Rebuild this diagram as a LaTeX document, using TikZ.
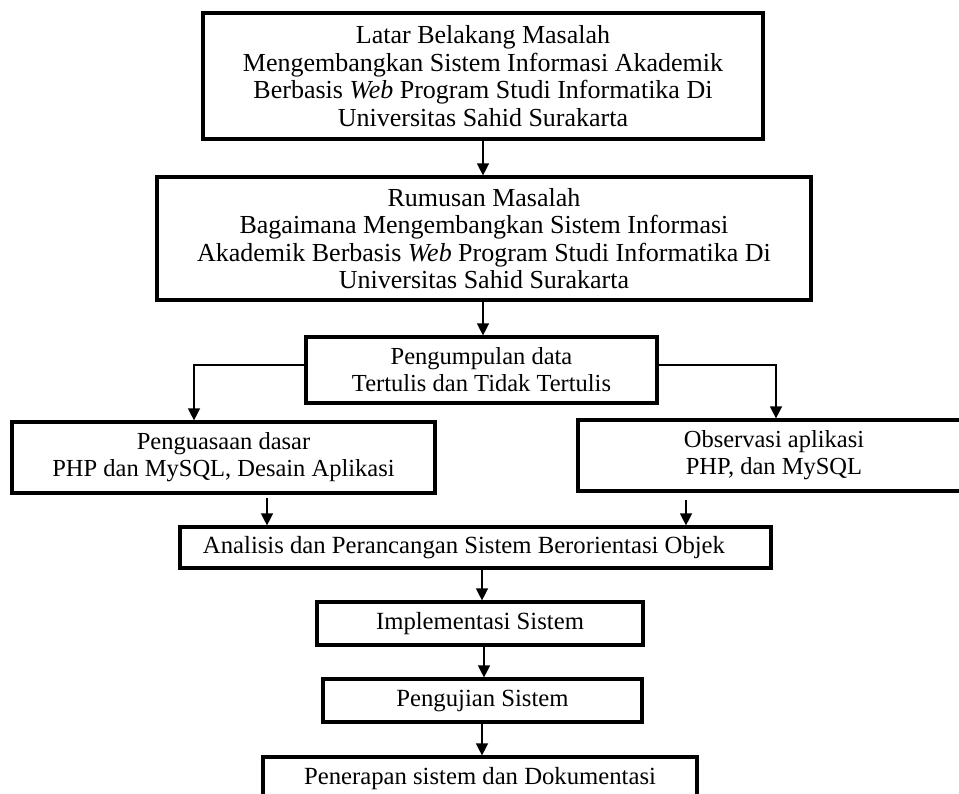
\documentclass[tikz,border=0pt]{standalone}
\usepackage{fontspec}
\setmainfont{Liberation Serif}
\usetikzlibrary{arrows.meta}
\begin{document}
\begin{tikzpicture}[x=1pt,y=-1pt,
  box/.style={draw, line width=3.2pt, inner sep=0pt, align=center},
  arr/.style={line width=1.4pt, -{Triangle[width=12pt,length=12pt]}},
  bigtxt/.style={font=\fontsize{26}{27.5}\selectfont},
  midtxt/.style={font=\fontsize{24.5}{27}\selectfont},
  smltxt/.style={font=\fontsize{24.7}{27}\selectfont}]
\useasboundingbox (0,0) rectangle (959,794);

\node[box,bigtxt,minimum width=560pt,minimum height=126pt] (b1) at (483,76)
  {Latar Belakang Masalah\\Mengembangkan Sistem Informasi Akademik\\Berbasis \textit{Web} Program Studi Informatika Di\\Universitas Sahid Surakarta};
\node[box,bigtxt,minimum width=654pt,minimum height=123pt] (b2) at (484,238.5)
  {Rumusan Masalah\\Bagaimana Mengembangkan Sistem Informasi\\Akademik Berbasis \textit{Web} Program Studi Informatika Di\\Universitas Sahid Surakarta};
\node[box,midtxt,minimum width=351pt,minimum height=66pt] (b3) at (481.5,370)
  {Pengumpulan data\\Tertulis dan Tidak Tertulis};
\node[box,midtxt,minimum width=423pt,minimum height=71pt] (b4) at (223.5,457.5)
  {Penguasaan dasar\\PHP dan MySQL, Desain Aplikasi};
\node[box,midtxt,minimum width=392pt,minimum height=71pt] (b5) at (774,455.5)
  {Observasi aplikasi\\PHP, dan MySQL};
\node[box,smltxt,minimum width=591pt,minimum height=41pt] (b6) at (475.5,547.5)
  {Analisis dan Perancangan Sistem Berorientasi Objek\hspace{23pt}};
\node[box,smltxt,minimum width=326pt,minimum height=43pt] (b7) at (480,623.5)
  {Implementasi Sistem};
\node[box,smltxt,minimum width=319pt,minimum height=43pt] (b8) at (482.5,700.5)
  {Pengujian Sistem};
\node[box,smltxt,minimum width=434pt,minimum height=43pt] (b9) at (480,778.5)
  {Penerapan sistem dan Dokumentasi};

\coordinate (l1) at (194,365);
\coordinate (r1) at (776,365);
\coordinate (s1) at (267,498);
\coordinate (s2) at (686,500);
\coordinate (v1) at (483,0);
\coordinate (v2) at (482,0);
\coordinate (v3) at (484,0);
\coordinate (v4) at (482,0);

\draw[arr] (v1 |- b1.south) -- (v1 |- b2.north);
\draw[arr] (v1 |- b2.south) -- (v1 |- b3.north);
\draw[arr] (l1 -| b3.west) -- (l1) -- (l1 |- b4.north);
\draw[arr] (r1 -| b3.east) -- (r1) -- (r1 |- b5.north);
\draw[arr] (s1) -- (s1 |- b6.north);
\draw[arr] (s2) -- (s2 |- b6.north);
\draw[arr] (v2 |- b6.south) -- (v2 |- b7.north);
\draw[arr] (v3 |- b7.south) -- (v3 |- b8.north);
\draw[arr] (v4 |- b8.south) -- (v4 |- b9.north);
\end{tikzpicture}
\end{document}
